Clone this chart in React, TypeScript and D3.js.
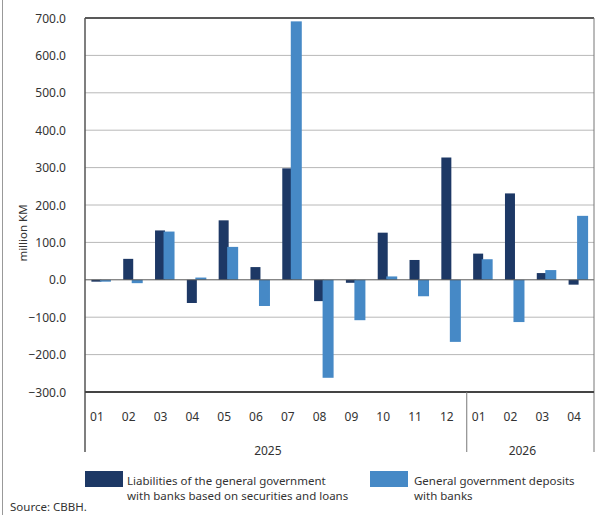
import * as d3 from "d3";

const months = ["01", "02", "03", "04", "05", "06", "07", "08", "09", "10", "11", "12", "01", "02", "03", "04"];
const years = [
  { label: "2025", from: 0, to: 12 },
  { label: "2026", from: 12, to: 16 },
];
// million KM
const liabilities = [-5, 56, 132, -62, 159, 34, 298, -57, -8, 126, 53, 327, 70, 231, 18, -13];
const deposits = [-5, -9, 129, 6, 88, -70, 691, -262, -108, 9, -44, -166, 55, -113, 26, 171];
const yTicks = [-300, -200, -100, 0, 100, 200, 300, 400, 500, 600, 700];

const darkBlue = "#1d3865";
const lightBlue = "#4689c6";
const font = "'Noto Sans', sans-serif";

export default function App() {
  const width = 615;
  const height = 515;
  const left = 85;
  const right = 594;
  const top = 18;
  const bottom = 392;

  const x = d3
    .scaleBand<number>()
    .domain(d3.range(months.length))
    .range([left, right])
    .padding(0);
  const y = d3.scaleLinear().domain([-300, 700]).range([bottom, top]);
  const bw = x.bandwidth();
  const center = (i: number) => (x(i) ?? 0) + bw / 2;

  const bar = (v: number) => ({
    y: Math.min(y(v), y(0)),
    h: Math.abs(y(v) - y(0)),
  });

  return (
    <svg
      width={width}
      height={height}
      style={{ position: "absolute", left: 0, top: 0, background: "#fff" }}
      fontFamily={font}
    >
      <line x1={2.5} x2={2.5} y1={0} y2={515} stroke="#999" strokeWidth={1} />

      {/* gridlines */}
      {yTicks.map((t) => (
        <g key={t}>
          {t !== 0 && t !== 700 && t !== -300 && (
            <line x1={left} x2={right} y1={y(t)} y2={y(t)} stroke="#b8b8b8" strokeWidth={1} />
          )}
          <text
            x={66}
            y={y(t)}
            textAnchor="end"
            dominantBaseline="central"
            fontSize={12}
            fill="#333"
          >
            {d3.format(".1f")(t)}
          </text>
        </g>
      ))}

      {/* bars */}
      {liabilities.map((v, i) => {
        const b = bar(v);
        return (
          <rect key={"l" + i} x={center(i) - 9.5} width={10} y={b.y} height={b.h} fill={darkBlue} />
        );
      })}
      {deposits.map((v, i) => {
        const b = bar(v);
        return (
          <rect key={"d" + i} x={center(i) - 1} width={11} y={b.y} height={b.h} fill={lightBlue} />
        );
      })}

      <line x1={left} x2={right} y1={y(0)} y2={y(0)} stroke="#555" strokeWidth={1} />
      <line x1={left} x2={right} y1={top} y2={top} stroke="#222" strokeWidth={1.5} />
      <line x1={right} x2={right} y1={top} y2={452} stroke="#777" strokeWidth={1} />
      <line x1={left} x2={left} y1={top} y2={452} stroke="#555" strokeWidth={1.5} />
      <line x1={left} x2={right} y1={bottom} y2={bottom} stroke="#444" strokeWidth={2} />
      <line x1={x(12)} x2={x(12)} y1={bottom} y2={452} stroke="#777" strokeWidth={1} />

      {/* month labels */}
      {months.map((m, i) => (
        <text
          key={"m" + i}
          x={center(i) - 4}
          y={416}
          textAnchor="middle"
          dominantBaseline="central"
          fontSize={12}
          fill="#333"
        >
          {m}
        </text>
      ))}
      {years.map((yr) => (
        <text
          key={yr.label}
          x={((x(yr.from) ?? 0) + (yr.to < months.length ? x(yr.to) ?? right : right)) / 2 - 8}
          y={450}
          textAnchor="middle"
          dominantBaseline="central"
          fontSize={12}
          fill="#333"
        >
          {yr.label}
        </text>
      ))}

      <text
        transform={`translate(22,233) rotate(-90)`}
        textAnchor="middle"
        dominantBaseline="central"
        fontSize={11.5}
        fill="#333"
      >
        million KM
      </text>

      {/* legend */}
      <rect x={85} y={471} width={38} height={16} fill={darkBlue} />
      <text x={127} y={485} fontSize={11.5} fill="#333">
        Liabilities of the general government
      </text>
      <text x={127} y={500} fontSize={11.5} fill="#333">
        with banks based on securities and loans
      </text>
      <rect x={370} y={471} width={38} height={16} fill={lightBlue} />
      <text x={414} y={485} fontSize={11.5} fill="#333">
        General government deposits
      </text>
      <text x={414} y={500} fontSize={11.5} fill="#333">
        with banks
      </text>

      <text x={10} y={511} fontSize={11.5} fill="#333">
        Source: CBBH.
      </text>
    </svg>
  );
}
